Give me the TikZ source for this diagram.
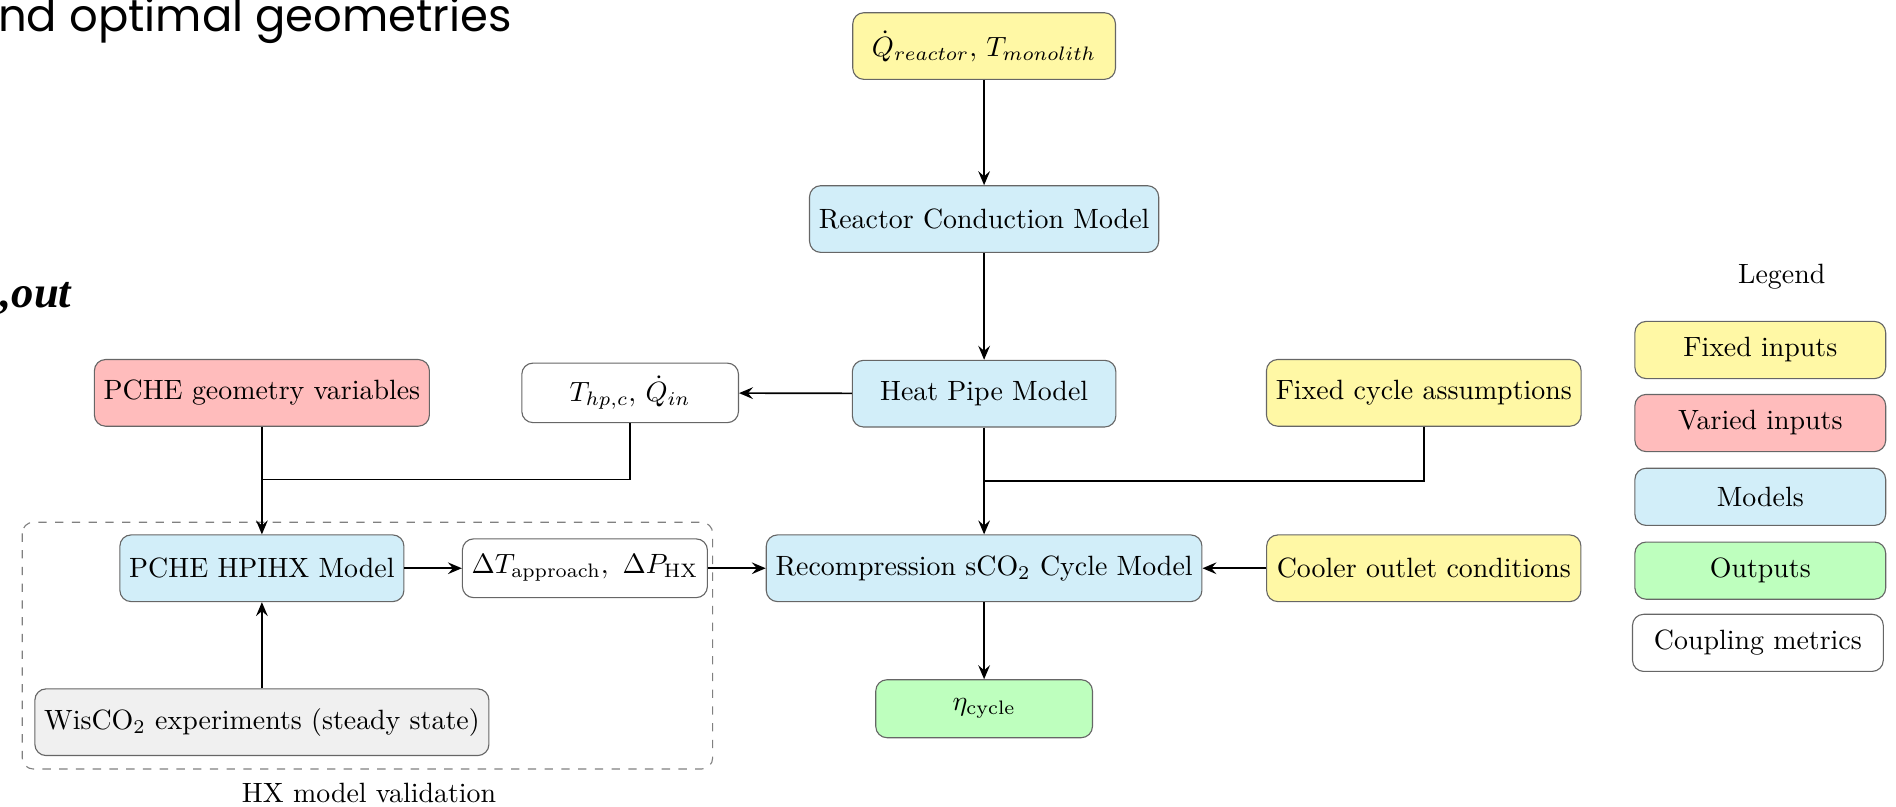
\documentclass[tikz,border=0pt]{standalone}
\usepackage{amsmath}
\usepackage{fontspec}
\usepackage{tikz}
\usetikzlibrary{shapes.geometric, arrows, arrows.meta}
\newfontfamily\slidefont{Poppins}
\newfontfamily\slideserif{Liberation Serif}
\definecolor{fixedin}{RGB}{255,248,165}
\definecolor{variedin}{RGB}{255,188,188}
\definecolor{modelcol}{RGB}{210,238,249}
\definecolor{outcol}{RGB}{190,255,190}
\definecolor{expcol}{RGB}{240,240,240}
\tikzstyle{block} = [rectangle, rounded corners=4pt, draw=black!60, minimum height=0.84cm, align=center]
\tikzstyle{fixedbox} = [block, fill=fixedin]
\tikzstyle{variedbox} = [block, fill=variedin]
\tikzstyle{modelbox} = [block, fill=modelcol]
\tikzstyle{outbox} = [block, fill=outcol]
\tikzstyle{metricbox} = [block, fill=white, minimum height=0.75cm]
\tikzstyle{legendbox} = [minimum width=3.16cm, minimum height=0.72cm]
\tikzstyle{arrow} = [semithick,->,>={Stealth[length=5pt,width=4.2pt,inset=1.8pt]}]
\tikzstyle{line} = [semithick]

\begin{document}
\begin{tikzpicture}
\useasboundingbox (0,0) rectangle (23.89,-10.156);
% bits of the slide behind the figure
\node[anchor=base west, inner sep=0, font=\slidefont\fontsize{16.1}{19}\selectfont] (slidetitle) at (-0.03,-0.40) {nd optimal geometries};
\node[anchor=base west, inner sep=0, font=\slideserif\bfseries\itshape\fontsize{16}{19}\selectfont] (slidevar) at (0,-3.88) {,out};

% main chain
\node[fixedbox, minimum width=3.31cm] (qin) at (12.40,-0.58) {$\dot{Q}_{reactor},\, T_{monolith}$};
\node[modelbox, minimum width=4.38cm] (cond) at (12.40,-2.76) {Reactor Conduction Model};
\node[modelbox, minimum width=3.32cm] (hp) at (12.40,-4.96) {Heat Pipe Model};
\node[metricbox, minimum width=2.73cm] (thp) at (7.94,-4.95) {$T_{hp,c},\, \dot{Q}_{in}$};
\node[variedbox, minimum width=4.20cm] (geom) at (3.30,-4.95) {PCHE geometry variables};
\node[fixedbox, minimum width=3.96cm] (fixcyc) at (17.94,-4.95) {Fixed cycle assumptions};
\node[modelbox, minimum width=3.55cm] (hpihx) at (3.30,-7.16) {PCHE HPIHX Model};
\node[metricbox, minimum width=2.89cm, minimum height=0.74cm] (dtp) at (7.37,-7.16) {$\Delta T_{\text{approach}},\ \Delta P_{\text{HX}}$};
\node[modelbox, minimum width=5.43cm] (recomp) at (12.40,-7.16) {Recompression sCO$_2$ Cycle Model};
\node[fixedbox, minimum width=3.96cm] (cooler) at (17.94,-7.16) {Cooler outlet conditions};
\node[outbox, minimum width=2.73cm, minimum height=0.73cm] (eta) at (12.40,-8.93) {$\eta_{\text{cycle}}$};
\node[block, fill=expcol, minimum width=5.72cm] (wis) at (3.30,-9.10) {WisCO$_2$ experiments (steady state)};

% validation group
\draw[dashed, draw=black!50, rounded corners=4pt] (0.28,-6.58) rectangle (8.98,-9.69);
\node (hxlabel) at (4.65,-9.99) {HX model validation};

% connectors
\coordinate (jleft) at (3.30,-6.04);
\coordinate (jright) at (12.40,-6.06);
\draw[arrow] (qin) -- (cond);
\draw[arrow] (cond) -- (hp);
\draw[arrow] (hp) -- (thp);
\draw[arrow] (hp) -- (recomp);
\draw[line] (fixcyc.south) |- (jright);
\draw[line] (thp.south) |- (jleft);
\draw[arrow] (geom) -- (hpihx);
\draw[arrow] (wis) -- (hpihx);
\draw[arrow] (hpihx) -- (dtp);
\draw[arrow] (dtp) -- (recomp);
\draw[arrow] (cooler) -- (recomp);
\draw[arrow] (recomp) -- (eta);

% legend
\node (legtitle) at (22.45,-3.49) {Legend};
\node[fixedbox, legendbox] (leg1) at (22.18,-4.41) {Fixed inputs};
\node[variedbox, legendbox] (leg2) at (22.18,-5.33) {Varied inputs};
\node[modelbox, legendbox] (leg3) at (22.18,-6.26) {Models};
\node[outbox, legendbox] (leg4) at (22.18,-7.19) {Outputs};
\node[metricbox, legendbox] (leg5) at (22.15,-8.10) {Coupling metrics};
\end{tikzpicture}
\end{document}
